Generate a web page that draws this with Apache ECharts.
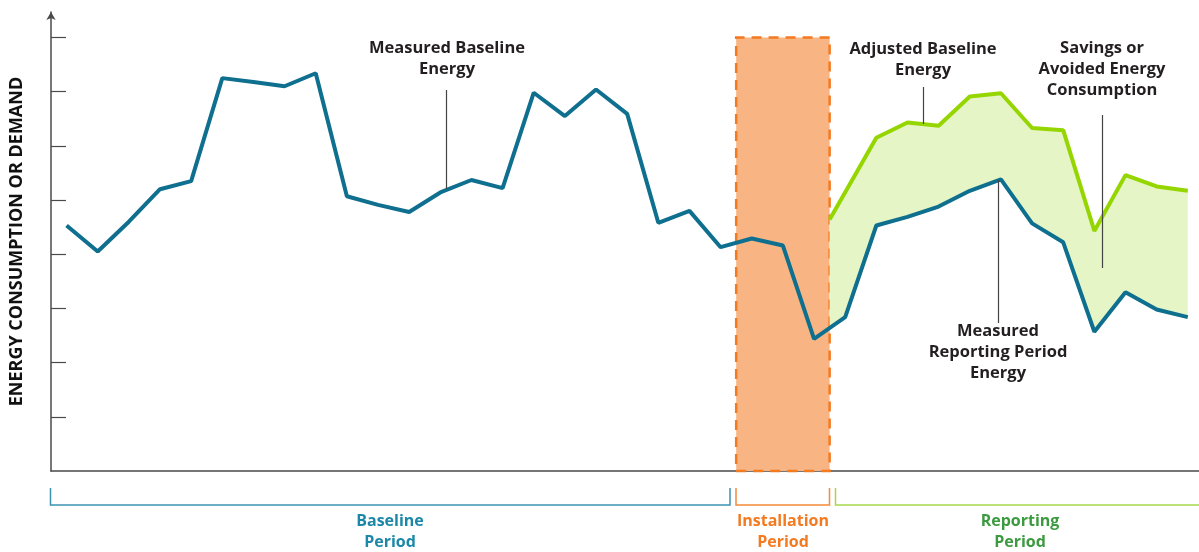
<!DOCTYPE html>
<html>
<head>
<meta charset="utf-8">
<script src="https://cdn.jsdelivr.net/npm/echarts@6/dist/echarts.min.js"></script>
<style>
  html, body { margin: 0; padding: 0; background: #fff; }
  #chart { width: 1199px; height: 552px; }
</style>
</head>
<body>
<div id="chart"></div>
<script>
// periods on the x scale (one step per measurement)
const baselineX = [0,1,2,3,4,5,6,7,8,9,10,11,12,13,14,15,16,17,18,19,20,21,22,23,24,25,26,27,28,29,30,31,32,33,34,35,36]
const measuredEnergy = [4.53,4.05,4.60,5.20,5.35,7.25,7.18,7.10,7.34,5.07,4.91,4.78,5.14,5.37,5.22,6.98,6.55,7.04,6.59,4.58,4.80,4.13,4.29,4.16,2.44,2.84,4.53,4.69,4.88,5.17,5.38,4.57,4.22,2.57,3.30,2.98,2.84]
const adjustedX = [24.5,26,27,28,29,30,31,32,33,34,35,36]
const adjustedEnergy = [4.64,6.15,6.43,6.37,6.91,6.97,6.33,6.29,4.43,5.46,5.25,5.17]
const installStart = 21.5
const installEnd = 24.5
const yTicks = [1,2,3,4,5,6,7,8]

const blue = '#0f6f8f'
const green = '#95d600'
const textFont = '"Open Sans", Lato, sans-serif'

const chart = echarts.init(document.getElementById('chart'))

const measuredData = baselineX.map((x, i) => [x, measuredEnergy[i]])
const adjustedData = adjustedX.map((x, i) => [x, adjustedEnergy[i]])

// savings area: adjusted line on top, measured line back underneath,
// closed at the right edge of the installation box
function renderSavings(params, api) {
  const pts = []
  adjustedData.forEach(d => pts.push(api.coord(d)))
  let i = measuredData.length - 1
  while (i > 0 && measuredData[i - 1][0] >= installEnd) {
    pts.push(api.coord(measuredData[i]))
    i--
  }
  const a = api.coord(measuredData[i])
  const b = api.coord(measuredData[i - 1])
  const edge = api.coord([installEnd, 0])[0]
  const t = (edge - b[0]) / (a[0] - b[0])
  pts.push(a)
  pts.push([edge, b[1] + (a[1] - b[1]) * t])
  return {
    type: 'polygon',
    shape: { points: pts },
    style: { fill: '#e5f5c5' }
  }
}

function label(text, x, y, color, size) {
  return {
    type: 'text',
    x: x,
    y: y,
    z: 10,
    style: {
      text: text,
      fill: color || '#231f20',
      font: 'bold ' + (size || 16.5) + 'px ' + textFont,
      align: 'center',
      verticalAlign: 'middle',
      lineHeight: 21
    }
  }
}

function leader(x, y1, y2) {
  return {
    type: 'line',
    shape: { x1: x, y1: y1, x2: x, y2: y2 },
    style: { stroke: '#444', lineWidth: 1.2 },
    z: 10
  }
}

function bracket(x1, x2, color, closeRight) {
  const pts = [[x1, 488], [x1, 505], [x2, 505]]
  if (closeRight) pts.push([x2, 488])
  return {
    type: 'polyline',
    shape: { points: pts },
    style: { stroke: color, lineWidth: 1.5, fill: null }
  }
}

chart.setOption({
  animation: false,
  grid: { left: 50, right: 0, top: 12, bottom: 81 },
  xAxis: {
    type: 'value',
    min: -0.5,
    max: 36.36,
    axisLine: {
      onZero: false,
      lineStyle: { color: '#4a4a4a', width: 1.5 }
    },
    axisTick: { show: false },
    axisLabel: { show: false },
    splitLine: { show: false }
  },
  yAxis: {
    type: 'value',
    min: 0,
    max: 8.47,
    name: 'ENERGY CONSUMPTION OR DEMAND',
    nameLocation: 'middle',
    nameRotate: 90,
    nameGap: 25,
    nameTextStyle: { fontFamily: textFont, fontWeight: 'bold', fontSize: 18, color: '#111' },
    axisLine: {
      onZero: false,
      lineStyle: { color: '#4a4a4a', width: 1.5 },
      symbol: ['none', 'arrow'],
      symbolSize: [7, 8]
    },
    axisTick: {
      show: true,
      inside: true,
      length: 15,
      customValues: yTicks,
      lineStyle: { color: '#4a4a4a', width: 1.2 }
    },
    axisLabel: { show: false },
    splitLine: { show: false }
  },
  series: [
    {
      name: 'Savings',
      type: 'custom',
      z: 1,
      silent: true,
      renderItem: renderSavings,
      data: [[installEnd, 0]]
    },
    {
      name: 'Installation',
      type: 'line',
      z: 2,
      data: [],
      markArea: {
        silent: true,
        itemStyle: {
          color: '#f8b583',
          borderColor: '#f47a20',
          borderWidth: 2.5,
          borderType: [10, 7]
        },
        data: [[{ xAxis: installStart, yAxis: 0 }, { xAxis: installEnd, yAxis: 8 }]]
      }
    },
    {
      name: 'Adjusted Baseline Energy',
      type: 'line',
      z: 3,
      showSymbol: false,
      data: adjustedData,
      lineStyle: { color: green, width: 4 }
    },
    {
      name: 'Measured Energy',
      type: 'line',
      z: 4,
      showSymbol: false,
      data: measuredData,
      lineStyle: { color: blue, width: 4 }
    }
  ],
  graphic: [
    label('Measured Baseline\nEnergy', 447, 59),
    leader(446.5, 90, 189),
    label('Adjusted Baseline\nEnergy', 923, 60),
    leader(923.5, 87, 124),
    label('Savings or\nAvoided Energy\nConsumption', 1102, 69),
    leader(1102.5, 115, 268),
    label('Measured\nReporting Period\nEnergy', 998, 352),
    leader(998.5, 180, 323),
    bracket(50.5, 730, '#3b93b3', true),
    bracket(736, 829.5, '#f58a3a', true),
    bracket(835.5, 1199, '#a6d84a', false),
    label('Baseline\nPeriod', 390, 532, '#1c87a8', 16),
    label('Installation\nPeriod', 783, 532, '#f47a20', 16),
    label('Reporting\nPeriod', 1020, 532, '#3c9a40', 16)
  ]
})
</script>
</body>
</html>
